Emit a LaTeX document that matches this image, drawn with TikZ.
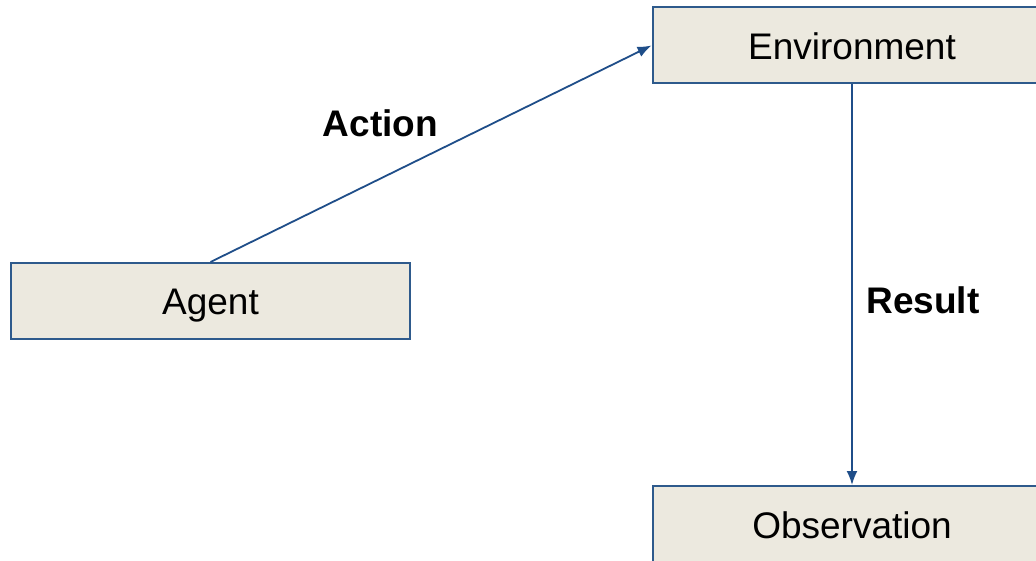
\documentclass[tikz,border=0pt]{standalone}
\usepackage{fontspec}
\setmainfont{Liberation Sans}
\usetikzlibrary{arrows.meta}
\definecolor{boxfill}{HTML}{ECE9DF}
\definecolor{boxdraw}{HTML}{2E5A8C}
\definecolor{linkcol}{HTML}{1F4E89}
\tikzset{
  box/.style={draw=boxdraw, line width=2pt, fill=boxfill, minimum width=399pt, minimum height=76pt, inner sep=0pt, text height=30pt, text depth=2pt, font=\fontsize{37pt}{42pt}\selectfont},
  link/.style={draw=linkcol, line width=1.8pt, -{Latex[length=14pt,width=11pt]}},
  lbl/.style={font=\fontsize{37pt}{42pt}\selectfont\bfseries, inner sep=0pt, anchor=base}
}
\begin{document}
\begin{tikzpicture}[x=1pt,y=-1pt]
\clip (0,0) rectangle (1036,561);
\fill[white] (0,0) rectangle (1036,561);
\node[box] (env) at (852,45.5) {Environment};
\node[box] (agent) at (210.5,301) {Agent};
\node[box] (obs) at (852,524) {Observation};
\draw[link] (agent.north) -- (env.west);
\draw[link] (env.south) -- (obs.north);
\node[lbl] (action) at (380.5,137) {Action};
\node[lbl] (result) at (923,313) {Result};
\end{tikzpicture}
\end{document}
